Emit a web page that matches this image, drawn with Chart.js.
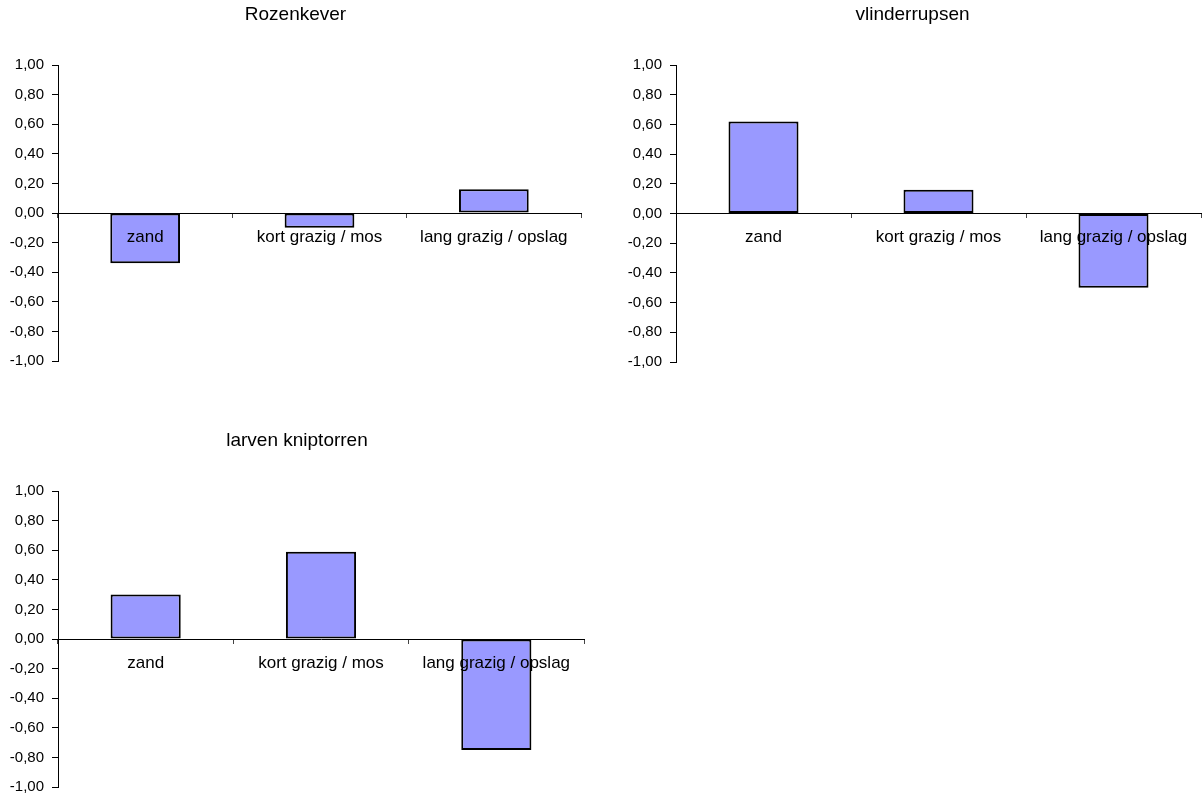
<!DOCTYPE html>
<html>
<head>
<meta charset="utf-8">
<script src="https://cdn.jsdelivr.net/npm/chart.js@4.4.1/dist/chart.umd.min.js"></script>
<style>
  html, body { margin: 0; padding: 0; background: #fff; overflow: hidden; }
  body { width: 1203px; height: 796px; position: relative; }
  .panel { position: absolute; }
</style>
</head>
<body>
<div class="panel" style="left:0;top:0"><canvas id="c1" width="600" height="400"></canvas></div>
<div class="panel" style="left:624px;top:0"><canvas id="c2" width="579" height="400"></canvas></div>
<div class="panel" style="left:0;top:420px"><canvas id="c3" width="600" height="400"></canvas></div>
<script>
// categories and values per group
const categories = ['zand', 'kort grazig / mos', 'lang grazig / opslag'];
const rozenkever = [-0.34, -0.10, 0.16];
const vlinderrupsen = [0.62, 0.16, -0.50];
const kniptorren = [0.30, 0.59, -0.75];

const yMin = -1, yMax = 1, yStep = 0.2;

Chart.defaults.font.family = '"Liberation Sans", Arial, sans-serif';
Chart.defaults.color = '#000';

function makeChart(id, title, values, box) {
    const ctx = document.getElementById(id).getContext('2d');
    return new Chart(ctx, {
        type: 'bar',
        data: {
            labels: categories,
            datasets: [{
                data: values,
                backgroundColor: '#9999ff',
                borderColor: '#000',
                borderWidth: 2,
                borderSkipped: false,
                barPercentage: 0.4,
                categoryPercentage: 1.0
            }]
        },
        options: {
            responsive: false,
            animation: false,
            layout: { padding: { left: box.left, right: box.right, top: 0, bottom: box.bottom } },
            plugins: {
                legend: { display: false },
                tooltip: { enabled: false },
                title: {
                    display: true,
                    text: title,
                    color: '#000',
                    font: { size: 19, weight: 'normal' },
                    padding: { top: box.titleTop, bottom: box.titleBottom }
                }
            },
            scales: {
                x: {
                    position: { y: 0 },
                    offset: true,
                    afterFit: (s) => { s.height = 0; },
                    border: { color: '#000', width: 1 },
                    grid: {
                        offset: true,
                        drawOnChartArea: false,
                        drawTicks: true,
                        tickLength: 4,
                        color: '#444'
                    },
                    // labels sit on top of the bars
                    ticks: {
                        z: 1,
                        maxRotation: 0,
                        minRotation: 0,
                        autoSkip: false,
                        padding: 10,
                        color: '#000',
                        font: { size: 17 }
                    }
                },
                y: {
                    min: yMin,
                    max: yMax,
                    afterFit: (s) => { s.width = box.axis; },
                    border: { color: '#000', width: 1 },
                    grid: {
                        drawOnChartArea: false,
                        drawTicks: true,
                        tickLength: 6,
                        color: '#000'
                    },
                    ticks: {
                        stepSize: yStep,
                        padding: 8,
                        color: '#000',
                        font: { size: 15 },
                        callback: (v) => Number(v).toFixed(2).replace('.', ',')
                    }
                }
            }
        }
    });
}

makeChart('c1', 'Rozenkever', rozenkever,
    { left: 10, axis: 48, right: 19, bottom: 39, titleTop: 3.6, titleBottom: 38.6 });
makeChart('c2', 'vlinderrupsen', vlinderrupsen,
    { left: 0, axis: 52, right: 2, bottom: 38, titleTop: 3.6, titleBottom: 38.6 });
makeChart('c3', 'larven kniptorren', kniptorren,
    { left: 10, axis: 48, right: 16, bottom: 33, titleTop: 9.3, titleBottom: 38.9 });
</script>
</body>
</html>
